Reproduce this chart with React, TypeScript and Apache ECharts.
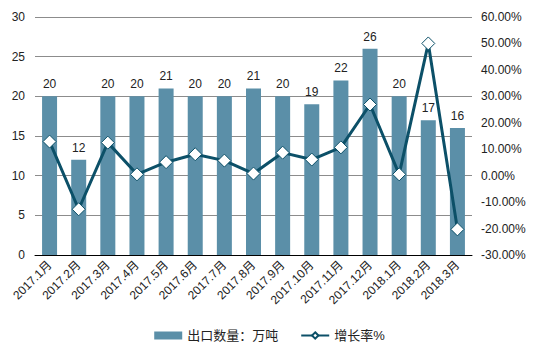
import React, { useEffect, useRef } from "react";
import * as echarts from "echarts";

const categories = ["2017.1月","2017.2月","2017.3月","2017.4月","2017.5月","2017.6月","2017.7月","2017.8月","2017.9月","2017.10月","2017.11月","2017.12月","2018.1月","2018.2月","2018.3月"];
const exportVolume = [20, 12, 20, 20, 21, 20, 20, 21, 20, 19, 22, 26, 20, 17, 16];
const growthRate = [12.9, -12.7, 12.5, 0.5, 5.1, 8.1, 5.7, 0.8, 8.7, 6.1, 10.7, 26.9, 0.5, 50.0, -20.3];
const leftTicks = [0, 30, 5];
const rightTicks = [-30, 60, 10];

export default function App() {
  const ref = useRef<HTMLDivElement>(null);
  useEffect(() => {
    if (!ref.current) return;
    const chart = echarts.init(ref.current, null, { renderer: "svg" });
    const font = "Arial, 'Liberation Sans', 'Noto Sans CJK SC', sans-serif";
    chart.setOption({
      animation: false,
      textStyle: { fontFamily: font },
      grid: { left: 35, right: 67, top: 17, bottom: 105 },
      legend: {
        bottom: 13,
        left: "center",
        itemGap: 22,
        itemWidth: 28,
        itemHeight: 8,
        textStyle: { fontSize: 13, color: "#222", fontFamily: font },
        data: [
          { name: "出口数量：万吨", icon: "rect" },
          { name: "增长率%" },
        ],
      },
      xAxis: {
        type: "category",
        data: categories,
        axisLine: { lineStyle: { color: "#000", width: 1 } },
        axisTick: { show: false },
        axisLabel: { rotate: 45, fontSize: 12, color: "#222", interval: 0, margin: 8 },
      },
      yAxis: [
        {
          type: "value",
          min: leftTicks[0],
          max: leftTicks[1],
          interval: leftTicks[2],
          axisLine: { show: false },
          axisTick: { show: false },
          axisLabel: { fontSize: 12, color: "#222", margin: 10 },
          splitLine: { lineStyle: { color: "#8c8c8c", width: 1 } },
        },
        {
          type: "value",
          min: rightTicks[0],
          max: rightTicks[1],
          interval: rightTicks[2],
          axisLine: { show: false },
          axisTick: { show: false },
          axisLabel: { fontSize: 12, color: "#222", margin: 9, formatter: (v: number) => v.toFixed(2) + "%" },
          splitLine: { show: false },
        },
      ],
      series: [
        {
          name: "出口数量：万吨",
          type: "bar",
          data: exportVolume,
          barWidth: 15,
          itemStyle: { color: "#5b8fa8" },
          label: { show: true, position: "top", fontSize: 12, color: "#222", distance: 6 },
        },
        {
          name: "增长率%",
          type: "line",
          yAxisIndex: 1,
          data: growthRate,
          symbol: "diamond",
          symbolSize: 13,
          lineStyle: { color: "#0c5068", width: 3 },
          itemStyle: { color: "#ffffff", borderColor: "#0c5068", borderWidth: 1 },
          z: 3,
        },
      ],
    });
    return () => chart.dispose();
  }, []);
  return (
    <div style={{ position: "relative", width: 539, height: 360, margin: -8, background: "#fff" }}>
      <div ref={ref} style={{ position: "absolute", left: 0, top: 0, width: 539, height: 360 }} />
      <div
        style={{
          position: "absolute",
          left: 4,
          top: 3,
          width: 532,
          height: 353,
          boxSizing: "border-box",
          border: "1px solid #808080",
          pointerEvents: "none",
          zIndex: 10,
        }}
      />
    </div>
  );
}
